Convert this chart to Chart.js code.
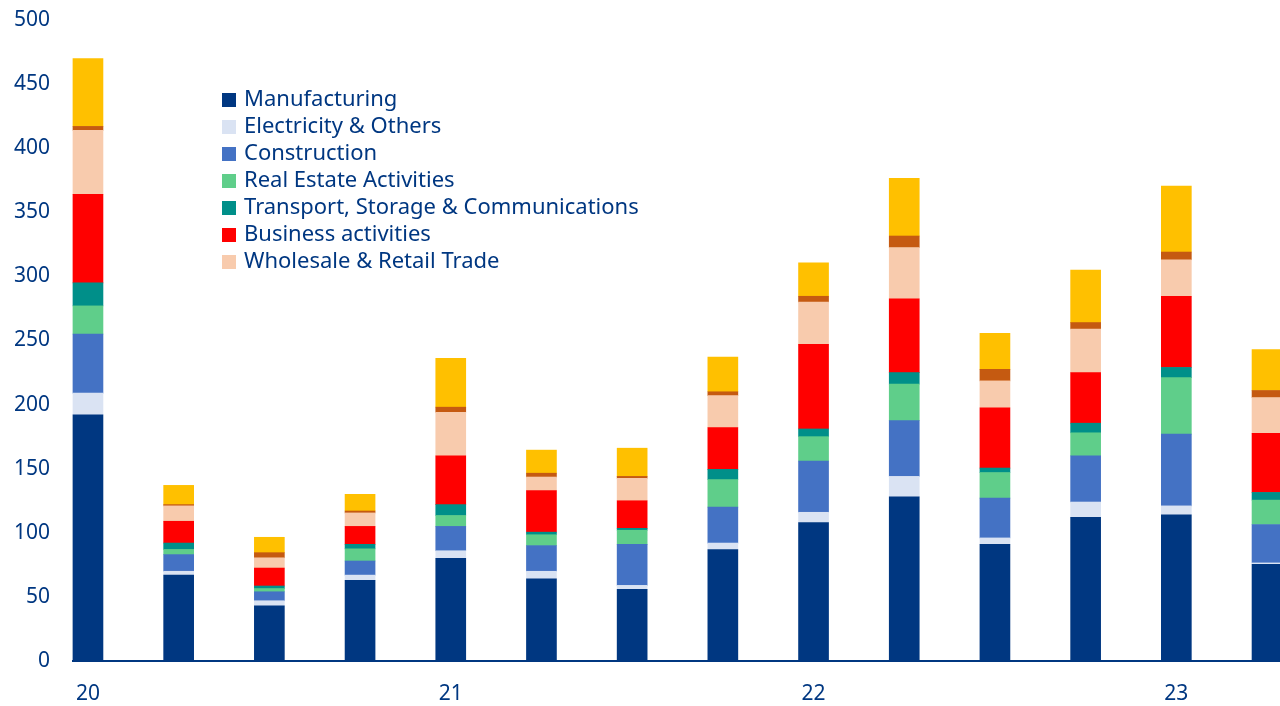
<!DOCTYPE html>
<html>
<head>
<meta charset="utf-8">
<script src="https://cdn.jsdelivr.net/npm/chart.js@4/dist/chart.umd.min.js"></script>
<style>
  html, body { margin: 0; padding: 0; background: #fff; }
  #wrap { position: relative; width: 1280px; height: 706px; overflow: hidden; }
  #legend { position: absolute; left: 222px; top: 84px; font-family: "Noto Sans", sans-serif; font-size: 22px; color: #003781; line-height: 27px; }
  #legend div { white-space: nowrap; }
  #legend span { display: inline-block; width: 14px; height: 14px; margin-right: 8px; vertical-align: -1px; }
</style>
</head>
<body>
<div id="wrap">
  <canvas id="chart" width="1280" height="706"></canvas>
  <div id="legend"></div>
</div>
<script>
// quarters, 1Q20 .. 2Q23
const quarters = ['1Q20', '2Q20', '3Q20', '4Q20', '1Q21', '2Q21', '3Q21', '4Q21', '1Q22', '2Q22', '3Q22', '4Q22', '1Q23', '2Q23'];
const yearLabels = ['20', '21', '22', '23'];

const manufacturing = [192, 67, 43, 63, 80, 64, 56, 87, 108, 128, 91, 112, 114, 75.5];
const electricity   = [17, 3, 4, 4, 6, 6, 3, 5, 8, 16, 5, 12, 7, 1];
const construction  = [46, 13, 7, 11, 19, 20, 32, 28, 40, 43.5, 31, 36, 56, 30];
const realEstate    = [22, 4, 2.5, 9.5, 8.5, 8.5, 11, 21.5, 19, 28.5, 20, 18, 44, 19];
const transport     = [18, 5, 2, 3.5, 8.5, 2, 1.5, 8, 6, 9, 3.5, 7.5, 8, 6];
const business      = [69, 17, 14, 14, 38, 32.5, 21.5, 32.5, 66, 57.5, 47, 39.5, 55.5, 46];
const wholesale     = [50, 12, 8, 10.5, 34, 10.5, 17.5, 25, 33, 40, 21, 34, 28.5, 28];
// two series with no legend entry
const otherA        = [3, 1, 4, 1.5, 4, 3, 1.5, 3, 4.5, 9, 9, 5, 6, 5.5];
const otherB        = [53, 15, 12, 13, 38, 18, 22, 27, 26, 45, 28, 41, 51.5, 32];

const series = [
  { label: 'Manufacturing', data: manufacturing, color: '#003781', legend: true },
  { label: 'Electricity & Others', data: electricity, color: '#dae3f3', legend: true },
  { label: 'Construction', data: construction, color: '#4472c4', legend: true },
  { label: 'Real Estate Activities', data: realEstate, color: '#5fce8a', legend: true },
  { label: 'Transport, Storage & Communications', data: transport, color: '#008f89', legend: true },
  { label: 'Business activities', data: business, color: '#ff0000', legend: true },
  { label: 'Wholesale & Retail Trade', data: wholesale, color: '#f8cbad', legend: true },
  { label: 'Other', data: otherA, color: '#c55a11', legend: false },
  { label: 'Other ', data: otherB, color: '#ffc000', legend: false }
];

const textColor = '#003781';
const font = { family: 'Noto Sans', size: 21 };

// html legend
const legendEl = document.getElementById('legend');
series.filter(s => s.legend).forEach(s => {
  const row = document.createElement('div');
  row.innerHTML = `<span style="background:${s.color}"></span>${s.label}`;
  legendEl.appendChild(row);
});

const ctx = document.getElementById('chart').getContext('2d');
new Chart(ctx, {
  type: 'bar',
  data: {
    labels: quarters.map((q, i) => i),
    datasets: series.map(s => ({
      label: s.label,
      data: s.data,
      backgroundColor: s.color,
      borderWidth: 0,
      barThickness: 30,
      clip: false
    }))
  },
  options: {
    responsive: false,
    animation: false,
    layout: { padding: { top: 20, left: 0, right: 0, bottom: 0 } },
    plugins: {
      legend: { display: false },
      tooltip: { enabled: false }
    },
    scales: {
      x: {
        type: 'linear',
        stacked: true,
        offset: false,
        min: -0.165,
        max: 13.143,
        grid: { display: false, drawTicks: false, offset: false },
        border: { display: true, color: textColor, width: 2 },
        afterBuildTicks: s => { s.ticks = yearLabels.map((y, i) => ({ value: i * 4 })); },
        afterFit: s => { s.height = 45; s.paddingLeft = 0; s.paddingRight = 0; },
        ticks: {
          autoSkip: false,
          maxRotation: 0,
          padding: 20,
          color: textColor,
          font: font,
          callback: v => yearLabels[v / 4]
        }
      },
      y: {
        stacked: true,
        min: 0,
        max: 500,
        grid: { display: false, drawTicks: false },
        border: { display: false },
        afterFit: s => { s.width = 73; s.paddingTop = 0; s.paddingBottom = 0; },
        ticks: {
          stepSize: 50,
          padding: 23,
          color: textColor,
          font: font
        }
      }
    }
  }
});
</script>
</body>
</html>
